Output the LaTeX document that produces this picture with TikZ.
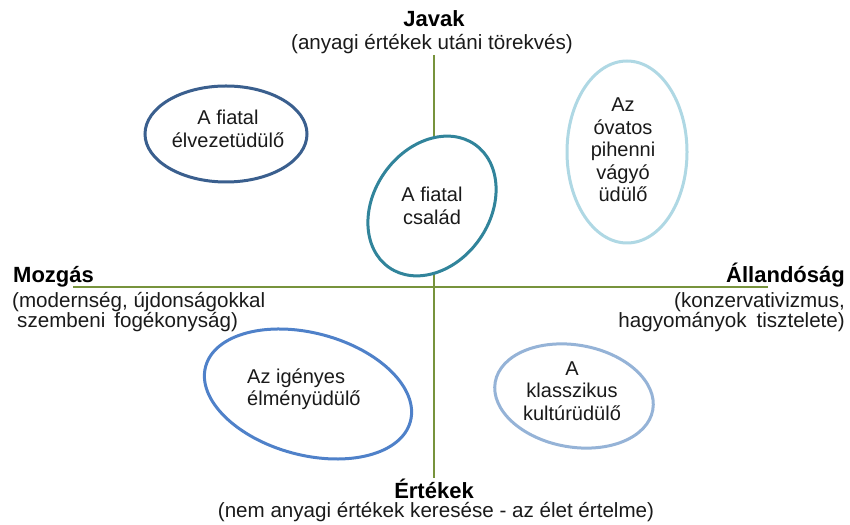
\documentclass[tikz,border=0pt]{standalone}
\usepackage{fontspec}
\setmainfont{Liberation Sans}
\definecolor{axisgreen}{HTML}{77933C}
\definecolor{ringdark}{HTML}{3A5F8E}
\definecolor{ringpale}{HTML}{AFD8E4}
\definecolor{ringteal}{HTML}{31849B}
\definecolor{ringblue}{HTML}{4F81C9}
\definecolor{ringsoft}{HTML}{95B3D7}
\definecolor{inktext}{HTML}{1A1A1A}
\begin{document}
\begin{tikzpicture}[x=1pt,y=1pt,
  axis/.style={draw=axisgreen, line width=2.7pt},
  ring/.style={line width=3pt, fill=white},
  poletitle/.style={font=\fontsize{22}{24}\selectfont\bfseries, inner sep=0pt, text=black},
  polenote/.style={font=\fontsize{20.6}{20.5}\selectfont, inner sep=0pt, text=inktext},
  segment/.style={font=\fontsize{20}{22.4}\selectfont, inner sep=0pt, align=center, text=inktext}]
\useasboundingbox (0,0) rectangle (850,524);

% axes
\coordinate (vtop) at (434,469);
\coordinate (vbot) at (434,46);
\coordinate (hleft) at (73,237);
\coordinate (hright) at (768,237);
\draw[axis] (vtop) -- (vbot);
\draw[axis] (hleft) -- (hright);

% segment outlines
\draw[ring, draw=ringdark] (226,390) ellipse [x radius=81, y radius=48];
\draw[ring, draw=ringpale] (627,372) ellipse [x radius=60, y radius=91];
\draw[ring, draw=ringteal, rotate around={-35:(432,318)}] (432,318) ellipse [x radius=58, y radius=75];
\draw[ring, draw=ringblue, rotate around={-15:(308,130)}] (308,130) ellipse [x radius=106, y radius=61];
\draw[ring, draw=ringsoft, rotate around={-10:(574,128)}] (574,128) ellipse [x radius=80, y radius=51];

% segment names
\node[segment] (young) at (228,395) {A fiatal\\élvezetüdülő};
\node[segment] (careful) at (623,374) {Az\\óvatos\\pihenni\\vágyó\\üdülő};
\node[segment] (family) at (432,318) {A fiatal\\család};
\node[segment, align=left, anchor=west] (demanding) at (247,135) {Az igényes\\élményüdülő};
\node[segment] (classic) at (572,133) {A\\klasszikus\\kultúrüdülő};

% pole labels
\node[poletitle, anchor=base] (goods) at (434,497) {Javak};
\node[polenote, anchor=base] (goodsnote) at (432,474) {(anyagi értékek utáni törekvés)};
\node[poletitle, anchor=base west] (motion) at (13,241) {Mozgás};
\node[polenote, anchor=north west, align=left] (motionnote) at (12,232)
  {(modernség, újdonságokkal\\\hspace{5pt}szembeni\hspace{9pt}fogékonyság)};
\node[poletitle, anchor=base east] (stability) at (845,241) {Állandóság};
\node[polenote, anchor=north east, align=right] (stabilitynote) at (845,232)
  {(konzervativizmus,\\hagyományok\hspace{10pt}tisztelete)};
\node[poletitle, anchor=base] (values) at (434,26) {Értékek};
\node[polenote, anchor=base] (valuesnote) at (436,6) {(nem anyagi értékek keresése - az élet értelme)};
\end{tikzpicture}
\end{document}
